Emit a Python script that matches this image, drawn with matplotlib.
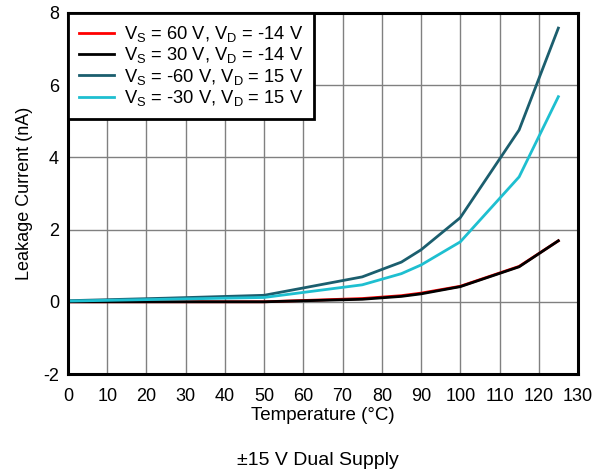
import numpy as np
import matplotlib
matplotlib.use("Agg")
import matplotlib.pyplot as plt

plt.rcParams["font.family"] = ["Liberation Sans", "DejaVu Sans"]
plt.rcParams["axes.unicode_minus"] = False

temp = [0, 25, 50, 75, 85, 90, 100, 115, 125]
vs60_vdm14 = [0.0, 0.0, 0.0, 0.09, 0.17, 0.24, 0.43, 0.98, 1.69]
vs30_vdm14 = [0.0, 0.0, 0.0, 0.07, 0.15, 0.22, 0.42, 0.97, 1.69]
vsm60_vd15 = [0.03, 0.1, 0.18, 0.69, 1.1, 1.44, 2.33, 4.76, 7.58]
vsm30_vd15 = [0.02, 0.07, 0.12, 0.47, 0.78, 1.02, 1.66, 3.46, 5.68]

labels = [
    r"V$_\mathregular{S}$ = 60 V, V$_\mathregular{D}$ = -14 V",
    r"V$_\mathregular{S}$ = 30 V, V$_\mathregular{D}$ = -14 V",
    r"V$_\mathregular{S}$ = -60 V, V$_\mathregular{D}$ = 15 V",
    r"V$_\mathregular{S}$ = -30 V, V$_\mathregular{D}$ = 15 V",
]
colors = ["#ff0000", "#000000", "#1b5e6e", "#1ebfd0"]

fig = plt.figure(figsize=(5.94, 4.72), dpi=100)
ax = fig.add_axes([0.1145, 0.2076, 0.8585, 0.765])

for ys, lab, c in zip([vs60_vdm14, vs30_vdm14, vsm60_vd15, vsm30_vd15], labels, colors):
    ax.plot(temp, ys, color=c, lw=2, label=lab)

ax.set_xlim(0, 130)
ax.set_ylim(-2, 8)
ax.set_xticks(np.arange(0, 131, 10))
ax.set_yticks(np.arange(-2, 9, 2))
ax.grid(True, color="#808080", lw=1)
ax.set_axisbelow(True)
ax.tick_params(axis="both", length=0, labelsize=13)
ax.tick_params(axis="x", pad=10)
ax.tick_params(axis="y", pad=6.5)
for loc in ["bottom", "top", "left", "right"]:
    ax.spines[loc].set_linewidth(2.2)

ax.set_xlabel("Temperature (\u00b0C)", fontsize=13.5, labelpad=1.5)
ax.set_ylabel("Leakage Current (nA)", fontsize=13, labelpad=7)

leg = ax.legend(loc="upper left", fontsize=13.2, frameon=True, fancybox=False,
                borderaxespad=0, handlelength=1.9, labelspacing=0.08,
                borderpad=0.6, handletextpad=0.55)
leg.get_frame().set_edgecolor("black")
leg.get_frame().set_linewidth(2)
leg.get_frame().set_alpha(1)

fig.text(0.535, 0.015, "\u00b115 V Dual Supply", ha="center", fontsize=14)

fig.savefig("out.png", dpi=100)
